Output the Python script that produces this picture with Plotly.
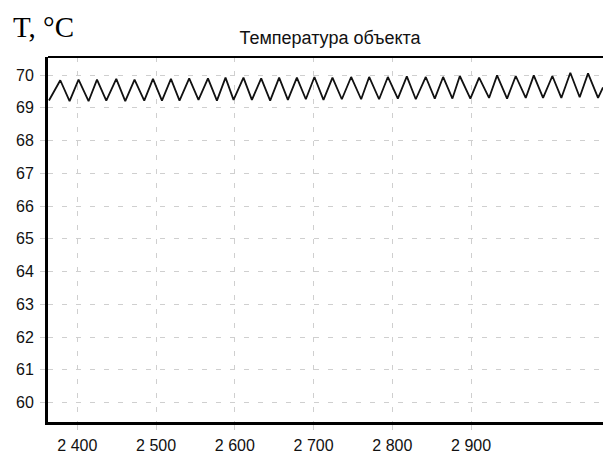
import plotly.graph_objects as go

# Data
start_time = 2364.0
start_value = 69.22
peak_times = [2378.4, 2401.6, 2425.0, 2449.5, 2472.7, 2496.1, 2518.9, 2542.1, 2565.9, 2588.2,
              2611.0, 2633.5, 2656.3, 2678.8, 2701.1, 2724.0, 2747.7, 2770.6, 2794.3, 2818.4,
              2842.5, 2864.5, 2885.7, 2910.2, 2933.0, 2956.7, 2979.6, 3003.2, 3026.0, 3048.5]
peak_values = [69.84, 69.86, 69.86, 69.88, 69.86, 69.88, 69.88, 69.90, 69.90, 69.92,
               69.92, 69.90, 69.92, 69.92, 69.94, 69.92, 69.94, 69.94, 69.94, 69.96,
               69.94, 69.94, 69.97, 69.92, 69.99, 69.97, 69.99, 69.97, 70.07, 70.05]
trough_times = [2390.2, 2414.3, 2436.8, 2460.9, 2485.0, 2507.5, 2529.8, 2553.9, 2577.3, 2598.4,
                2621.7, 2644.9, 2667.4, 2690.2, 2712.6, 2735.9, 2760.4, 2783.2, 2807.0, 2829.8,
                2853.9, 2876.3, 2899.1, 2922.8, 2945.7, 2969.4, 2991.4, 3014.6, 3037.9, 3061.2]
trough_values = [69.20, 69.20, 69.22, 69.20, 69.22, 69.22, 69.22, 69.24, 69.22, 69.24,
                 69.24, 69.22, 69.24, 69.26, 69.24, 69.26, 69.26, 69.26, 69.28, 69.26,
                 69.28, 69.28, 69.28, 69.30, 69.28, 69.30, 69.30, 69.30, 69.32, 69.30]
end_time = 3067.5
end_value = 69.62

x_tick_values = [2400, 2500, 2600, 2700, 2800, 2900]
x_tick_labels = ["2 400", "2 500", "2 600", "2 700", "2 800", "2 900"]
y_tick_values = [60, 61, 62, 63, 64, 65, 66, 67, 68, 69, 70]

title_text = "Температура объекта"
y_label = "T, °C"

# Build the series
xs = [start_time]
ys = [start_value]
for pt, pv, tt, tv in zip(peak_times, peak_values, trough_times, trough_values):
    xs += [pt, tt]
    ys += [pv, tv]
xs.append(end_time)
ys.append(end_value)

fig = go.Figure()
fig.add_trace(go.Scatter(x=xs, y=ys, mode="lines",
                         line=dict(color="#111111", width=1.8),
                         showlegend=False, hoverinfo="skip"))

grid_color = "#cfcfcf"
tick_font = dict(family="Liberation Sans, Arial, sans-serif", size=16, color="#111111")

W, H = 603, 456
L, R, T, B = 48, 0, 57, 34

fig.update_layout(
    width=W, height=H,
    margin=dict(l=L, r=R, t=T, b=B),
    paper_bgcolor="white", plot_bgcolor="white",
    title=dict(text=title_text, x=(330) / W, xanchor="center", y=1 - 38 / H, yanchor="middle",
               font=dict(family="Liberation Sans, Arial, sans-serif", size=18, color="#111111")),
    xaxis=dict(range=[2362.8, 3067.5], tickvals=x_tick_values, ticktext=x_tick_labels,
               showgrid=True, gridcolor=grid_color, gridwidth=1, griddash="5px,9px",
               showline=True, linecolor="black", linewidth=3,
               ticks="outside", ticklen=5, tickcolor=grid_color, tickfont=tick_font,
               ticklabelstandoff=2,
               zeroline=False, fixedrange=True),
    yaxis=dict(range=[59.405, 70.55], tickvals=y_tick_values,
               showgrid=True, gridcolor=grid_color, gridwidth=1, griddash="5px,9px",
               showline=True, linecolor="black", linewidth=3,
               ticks="outside", ticklen=5, tickcolor=grid_color, tickfont=tick_font,
               ticklabelstandoff=3,
               zeroline=False, fixedrange=True),
    shapes=[dict(type="line", xref="paper", yref="paper", x0=0, x1=1, y0=1, y1=1,
                 line=dict(color="black", width=2))],
    annotations=[dict(text=y_label, xref="paper", yref="paper",
                      x=-L / (W - L - R), xanchor="left",
                      y=1 + (T - 27) / (H - T - B), yanchor="middle",
                      xshift=11, showarrow=False,
                      font=dict(family="Liberation Serif, Times New Roman, serif", size=29, color="black"))],
)

fig.write_html("out.html",
               config={"displayModeBar": False, "staticPlot": True},
               post_script="document.body.style.margin='0px';document.body.style.overflow='hidden';")
